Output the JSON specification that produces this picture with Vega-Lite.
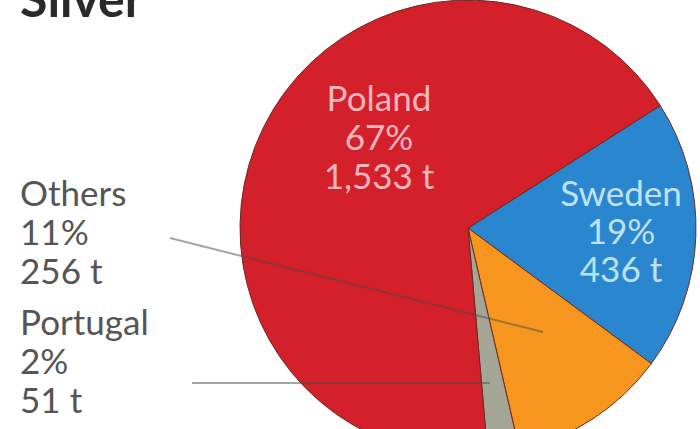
{
  "$schema": "https://vega.github.io/schema/vega-lite/v6.json",
  "width": 700,
  "height": 429,
  "autosize": "none",
  "padding": 0,
  "background": "white",
  "config": {"view": {"stroke": null}, "text": {"font": "Lato"}},
  "datasets": {
    "slices": [
      {"country": "Sweden", "tonnes": 436, "rank": 1},
      {"country": "Others", "tonnes": 256, "rank": 2},
      {"country": "Portugal", "tonnes": 51, "rank": 3},
      {"country": "Poland", "tonnes": 1533, "rank": 4}
    ],
    "labels": [
      {"group": "Poland", "label": "Poland\n67%\n1,533 t", "lx": -0.394, "ly": 0.566},
      {"group": "Sweden", "label": "Sweden\n19%\n436 t", "lx": 0.677, "ly": 0.146},
      {"group": "outer", "label": "Others\n11%\n256 t", "lx": -1.982, "ly": 0.146},
      {"group": "outer", "label": "Portugal\n2%\n51 t", "lx": -1.982, "ly": -0.425},
      {"group": "title", "label": "Silver", "lx": -1.982, "ly": 0.934}
    ],
    "leaders": [
      {"country": "Others", "x1": -1.319, "y1": -0.044, "x2": 0.332, "y2": -0.46},
      {"country": "Portugal", "x1": -1.221, "y1": -0.686, "x2": 0.097, "y2": -0.686}
    ]
  },
  "layer": [
    {
      "data": {"name": "slices"},
      "mark": {"type": "arc", "outerRadius": 228, "stroke": "#6b2a20", "strokeWidth": 1},
      "encoding": {
        "theta": {"field": "tonnes", "type": "quantitative", "stack": true, "scale": {"range": [1.0036, 7.2868]}},
        "order": {"field": "rank", "type": "quantitative"},
        "color": {
          "field": "country", "type": "nominal", "legend": null,
          "scale": {"domain": ["Poland", "Sweden", "Others", "Portugal"], "range": ["#D3202A", "#2A86CF", "#F7961E", "#A5A596"]}
        },
        "x": {"datum": 0, "type": "quantitative", "scale": {"domain": [-2.0708, 1.0265], "nice": false, "zero": false}, "axis": null},
        "y": {"datum": 0, "type": "quantitative", "scale": {"domain": [-0.889, 1.009], "nice": false, "zero": false}, "axis": null}
      }
    },
    {
      "data": {"name": "leaders"},
      "mark": {"type": "rule", "stroke": "#4a4a4a", "strokeOpacity": 0.5, "strokeWidth": 2},
      "encoding": {
        "x": {"field": "x1", "type": "quantitative"},
        "y": {"field": "y1", "type": "quantitative"},
        "x2": {"field": "x2"},
        "y2": {"field": "y2"}
      }
    },
    {
      "data": {"name": "labels"},
      "transform": [{"filter": "datum.group === 'Poland'"}],
      "mark": {"type": "text", "lineBreak": "\n", "fontSize": 35, "lineHeight": 39, "align": "center", "baseline": "middle", "color": "#F7B6BE"},
      "encoding": {
        "x": {"field": "lx", "type": "quantitative"},
        "y": {"field": "ly", "type": "quantitative"},
        "text": {"field": "label"}
      }
    },
    {
      "data": {"name": "labels"},
      "transform": [{"filter": "datum.group === 'Sweden'"}],
      "mark": {"type": "text", "lineBreak": "\n", "fontSize": 35, "lineHeight": 38, "align": "center", "baseline": "middle", "color": "#BFE2F7"},
      "encoding": {
        "x": {"field": "lx", "type": "quantitative"},
        "y": {"field": "ly", "type": "quantitative"},
        "text": {"field": "label"}
      }
    },
    {
      "data": {"name": "labels"},
      "transform": [{"filter": "datum.group === 'outer'"}],
      "mark": {"type": "text", "lineBreak": "\n", "fontSize": 35, "lineHeight": 39, "align": "left", "baseline": "middle", "color": "#555555"},
      "encoding": {
        "x": {"field": "lx", "type": "quantitative"},
        "y": {"field": "ly", "type": "quantitative"},
        "text": {"field": "label"}
      }
    },
    {
      "data": {"name": "labels"},
      "transform": [{"filter": "datum.group === 'title'"}],
      "mark": {"type": "text", "fontSize": 50, "fontWeight": "bold", "align": "left", "baseline": "alphabetic", "color": "#2a2a2a"},
      "encoding": {
        "x": {"field": "lx", "type": "quantitative"},
        "y": {"field": "ly", "type": "quantitative"},
        "text": {"field": "label"}
      }
    }
  ]
}
